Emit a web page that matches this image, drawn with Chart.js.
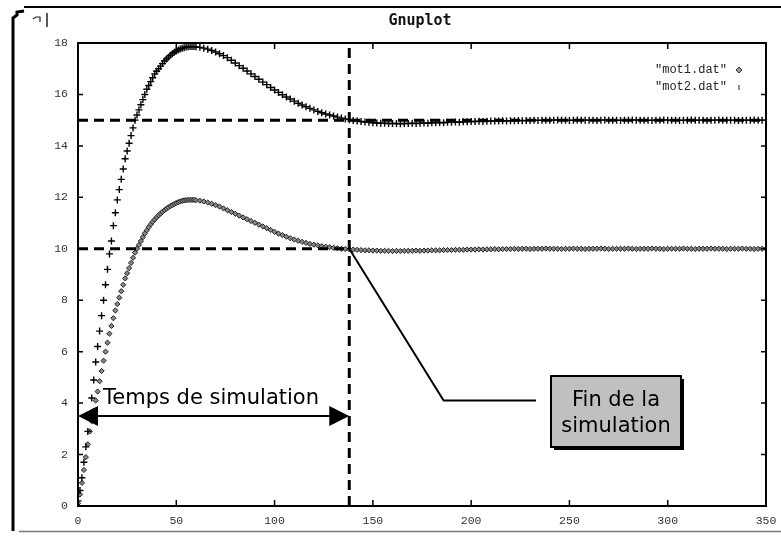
<!DOCTYPE html>
<html>
<head>
<meta charset="utf-8">
<script src="https://cdn.jsdelivr.net/npm/chart.js@4.4.0/dist/chart.umd.min.js"></script>
<style>
html, body { margin: 0; padding: 0; background: #fff; }
#cadre { width: 781px; height: 540px; }
</style>
</head>
<body>
<div id="cadre"><canvas id="graphe"></canvas></div>
<script>
// temps de simulation (abscisses)
const temps = [
  0,1,2,3,4,5,6,7,8,9,
  10,11,12,13,14,15,16,17,18,19,
  20,21,22,23,24,25,26,27,28,29,
  30,31,32,33,34,35,36,37,38,39,
  40,41,42,43,44,45,46,47,48,49,
  50,51,52,53,54,55,56,57,58,59,
  60,
  62,64,66,68,70,72,74,76,78,80,
  82,84,86,88,90,92,94,96,98,100,
  102,104,106,108,110,112,114,116,118,120,
  122,124,126,128,130,132,134,136,138,140,
  142,144,146,148,150,152,154,156,158,160,
  162,164,166,168,170,172,174,176,178,180,
  182,184,186,188,190,192,194,196,198,200,
  202,204,206,208,210,212,214,216,218,220,
  222,224,226,228,230,232,234,236,238,240,
  242,244,246,248,250,252,254,256,258,260,
  262,264,266,268,270,272,274,276,278,280,
  282,284,286,288,290,292,294,296,298,300,
  302,304,306,308,310,312,314,316,318,320,
  322,324,326,328,330,332,334,336,338,340,
  342,344,346,348,350
];

// "mot1.dat" (regime 10)
const mot1 = [
  0.1,0.45,0.9,1.4,1.9,2.4,2.9,3.3,3.7,4.1,
  4.45,4.85,5.25,5.65,6.0,6.35,6.7,7.0,7.3,7.6,
  7.85,8.1,8.35,8.6,8.85,9.05,9.25,9.45,9.65,9.85,
  10.0,10.15,10.3,10.45,10.6,10.72,10.84,10.95,11.05,11.14,
  11.22,11.3,11.37,11.44,11.5,11.56,11.61,11.66,11.7,11.74,
  11.78,11.81,11.84,11.86,11.88,11.89,11.9,11.9,11.9,11.9,
  11.89,
  11.87,11.84,11.8,11.75,11.7,11.64,11.57,11.5,11.43,11.36,
  11.29,11.22,11.15,11.08,11.01,10.94,10.87,10.8,10.73,10.66,
  10.59,10.53,10.47,10.41,10.36,10.31,10.27,10.23,10.19,10.16,
  10.13,10.1,10.08,10.06,10.04,10.02,10.0,9.99,9.98,9.97,
  9.96,9.95,9.94,9.94,9.93,9.93,9.92,9.92,9.92,9.91,
  9.92,9.91,9.92,9.92,9.92,9.93,9.92,9.93,9.93,9.94,
  9.94,9.94,9.95,9.95,9.95,9.96,9.96,9.96,9.97,9.97,
  9.97,9.98,9.97,9.98,9.98,9.99,9.98,9.99,9.99,9.99,
  10.0,9.99,10.0,10.0,9.99,10.0,10.0,10.0,10.01,10.0,
  10.0,10.0,9.99,10.0,10.0,10.01,10.0,10.0,9.99,10.0,
  10.0,10.0,10.01,10.0,9.99,10.0,10.0,10.0,10.0,10.01,
  10.0,9.99,10.0,10.0,10.0,10.01,10.0,10.0,9.99,10.0,
  10.0,10.0,10.0,10.01,10.0,10.0,9.99,10.0,10.0,10.0,
  10.01,10.0,10.0,10.0,9.99,10.0,10.0,10.0,10.01,10.0,
  10.0,9.99,10.0,10.0,10.0
];

// "mot2.dat" (regime 15)
const mot2 = [
  0.2,0.6,1.1,1.7,2.3,2.9,3.5,4.2,4.9,5.6,
  6.2,6.8,7.4,8.0,8.6,9.2,9.8,10.3,10.9,11.4,
  11.9,12.3,12.7,13.1,13.5,13.8,14.1,14.4,14.7,15.0,
  15.2,15.4,15.6,15.8,16.0,16.2,16.35,16.5,16.65,16.8,
  16.9,17.0,17.1,17.2,17.3,17.38,17.45,17.52,17.58,17.64,
  17.69,17.73,17.77,17.8,17.82,17.84,17.85,17.86,17.86,17.86,
  17.85,
  17.83,17.8,17.76,17.71,17.65,17.58,17.51,17.43,17.33,17.22,
  17.12,17.02,16.91,16.8,16.7,16.59,16.48,16.38,16.27,16.17,
  16.08,15.99,15.9,15.82,15.74,15.66,15.59,15.52,15.46,15.4,
  15.34,15.29,15.24,15.2,15.16,15.12,15.08,15.05,15.02,14.99,
  14.97,14.95,14.93,14.92,14.9,14.89,14.88,14.88,14.87,14.87,
  14.87,14.86,14.87,14.87,14.88,14.87,14.88,14.89,14.88,14.9,
  14.9,14.91,14.9,14.92,14.92,14.93,14.92,14.94,14.94,14.95,
  14.95,14.96,14.95,14.96,14.97,14.97,14.97,14.98,14.97,14.98,
  14.98,14.99,14.98,14.99,14.99,15.0,14.99,15.0,15.0,15.0,
  15.0,15.01,15.0,15.0,14.99,15.0,15.01,15.0,15.0,15.0,
  15.0,14.99,15.0,15.01,15.0,15.0,15.0,14.99,15.0,15.0,
  15.01,15.0,15.0,15.0,15.0,14.99,15.0,15.0,15.01,15.0,
  15.0,15.0,14.99,15.0,15.0,15.01,15.0,15.0,15.0,14.99,
  15.0,15.0,15.01,15.0,15.0,15.0,15.0,14.99,15.0,15.0,
  15.0,15.01,15.0,15.0,15.0
];

const ticksX = [0, 50, 100, 150, 200, 250, 300, 350];
const ticksY = [0, 2, 4, 6, 8, 10, 12, 14, 16, 18];

// reperes
const tFin = 138;
const regimes = [15, 10];
const yFleche = 3.5;
const coude = { x: 186, y: 4.1 };
const finTrait = 233;

const points = serie => temps.map((t, i) => ({ x: t, y: serie[i] }));

function losange(c, x, y, r) {
  c.beginPath();
  c.moveTo(x, y - r); c.lineTo(x + r, y); c.lineTo(x, y + r); c.lineTo(x - r, y);
  c.closePath();
  c.fill(); c.stroke();
}

const decor = {
  id: 'decor',
  beforeDraw(chart) {
    const c = chart.ctx;
    c.save();
    c.fillStyle = '#fff';
    c.fillRect(0, 0, chart.width, chart.height);

    // cadre de la fenetre
    c.strokeStyle = '#000';
    c.lineWidth = 3;
    c.beginPath();
    c.moveTo(13, 531); c.lineTo(13, 18); c.lineTo(17, 15); c.lineTo(17, 12); c.lineTo(24, 11);
    c.stroke();
    c.lineWidth = 2;
    c.beginPath();
    c.moveTo(24, 7); c.lineTo(781, 7);
    c.stroke();
    c.strokeStyle = '#777';
    c.lineWidth = 1.5;
    c.beginPath();
    c.moveTo(19, 531.5); c.lineTo(781, 531.5);
    c.stroke();

    // icone
    c.strokeStyle = '#222';
    c.lineWidth = 1.2;
    c.beginPath();
    c.moveTo(33, 19); c.lineTo(36, 17); c.lineTo(40, 17); c.lineTo(40, 22);
    c.stroke();
    c.lineWidth = 1.5;
    c.beginPath();
    c.moveTo(47, 13); c.lineTo(47, 27);
    c.stroke();

    // titre
    c.fillStyle = '#111';
    c.font = 'bold 15px "DejaVu Sans Mono"';
    c.textAlign = 'center';
    c.textBaseline = 'middle';
    c.fillText('Gnuplot', 420, 21);
    c.restore();
  },
  afterDraw(chart) {
    const c = chart.ctx;
    const a = chart.chartArea;
    const xs = chart.scales.x, ys = chart.scales.y;
    c.save();

    // bordure du trace et graduations interieures
    c.strokeStyle = '#000';
    c.lineWidth = 2;
    c.strokeRect(a.left, a.top, a.right - a.left, a.bottom - a.top);
    c.lineWidth = 1.5;
    c.beginPath();
    ticksX.forEach(v => {
      const p = xs.getPixelForValue(v);
      c.moveTo(p, a.bottom); c.lineTo(p, a.bottom - 6);
      c.moveTo(p, a.top); c.lineTo(p, a.top + 6);
    });
    ticksY.forEach(v => {
      const p = ys.getPixelForValue(v);
      c.moveTo(a.left, p); c.lineTo(a.left + 5, p);
      c.moveTo(a.right, p); c.lineTo(a.right - 5, p);
    });
    c.stroke();

    // legende
    c.font = '12px "Liberation Mono"';
    c.textAlign = 'right';
    c.textBaseline = 'middle';
    c.fillStyle = '#222';
    const ds = chart.data.datasets;
    c.fillText(ds[0].label, 727, 70);
    c.fillText(ds[1].label, 727, 87);
    c.strokeStyle = '#333';
    c.fillStyle = '#999';
    c.lineWidth = 1;
    losange(c, 739, 70, 3);
    c.strokeStyle = '#222';
    c.beginPath(); c.moveTo(739, 85); c.lineTo(739, 90); c.stroke();

    // fleche "Temps de simulation"
    const yf = ys.getPixelForValue(yFleche);
    const x0 = xs.getPixelForValue(0), x1 = xs.getPixelForValue(tFin);
    c.strokeStyle = '#000';
    c.fillStyle = '#000';
    c.lineWidth = 2;
    c.beginPath(); c.moveTo(x0 + 15, yf); c.lineTo(x1 - 15, yf); c.stroke();
    c.beginPath();
    c.moveTo(x0, yf); c.lineTo(x0 + 20, yf - 10); c.lineTo(x0 + 20, yf + 10); c.closePath();
    c.moveTo(x1, yf); c.lineTo(x1 - 20, yf - 10); c.lineTo(x1 - 20, yf + 10); c.closePath();
    c.fill();
    c.font = '21px "DejaVu Sans"';
    c.textAlign = 'left';
    c.textBaseline = 'alphabetic';
    c.fillText('Temps de simulation', x0 + 25, yf - 12);

    // renvoi "Fin de la simulation"
    c.lineWidth = 2;
    c.beginPath();
    c.moveTo(xs.getPixelForValue(tFin), ys.getPixelForValue(regimes[1]));
    c.lineTo(xs.getPixelForValue(coude.x), ys.getPixelForValue(coude.y));
    c.lineTo(xs.getPixelForValue(finTrait), ys.getPixelForValue(coude.y));
    c.stroke();

    const bx = 551, by = 376, bw = 130, bh = 71;
    c.fillStyle = '#000';
    c.fillRect(bx + 3, by + 3, bw, bh);
    c.fillStyle = '#c0c0c0';
    c.fillRect(bx, by, bw, bh);
    c.strokeStyle = '#000';
    c.lineWidth = 2;
    c.strokeRect(bx, by, bw, bh);
    c.fillStyle = '#000';
    c.textAlign = 'center';
    c.fillText('Fin de la', bx + bw / 2, by + 30);
    c.fillText('simulation', bx + bw / 2, by + 56);
    c.restore();
  }
};

const tirets = { borderColor: '#000', borderWidth: 3, borderDash: [10, 6], pointRadius: 0, showLine: true, fill: false, order: 0 };

new Chart(document.querySelector('#graphe'), {
  type: 'scatter',
  data: {
    datasets: [
      {
        label: '"mot1.dat"',
        data: points(mot1),
        pointStyle: 'rectRot',
        pointRadius: 2.6,
        borderWidth: 1,
        borderColor: '#222',
        backgroundColor: '#888',
        order: 2
      },
      {
        label: '"mot2.dat"',
        data: points(mot2),
        pointStyle: 'cross',
        pointRadius: 3.5,
        borderWidth: 1.4,
        borderColor: '#000',
        backgroundColor: '#000',
        order: 1
      },
      Object.assign({ label: 'r15', data: [{ x: 0, y: regimes[0] }, { x: ticksX[ticksX.length - 1], y: regimes[0] }] }, tirets),
      Object.assign({ label: 'r10', data: [{ x: 0, y: regimes[1] }, { x: tFin, y: regimes[1] }] }, tirets),
      Object.assign({ label: 'fin', data: [{ x: tFin, y: 0 }, { x: tFin, y: ticksY[ticksY.length - 1] }] }, tirets)
    ]
  },
  options: {
    responsive: true,
    maintainAspectRatio: false,
    devicePixelRatio: 1,
    animation: false,
    layout: { padding: { top: 43, right: 15, left: 0, bottom: 0 } },
    plugins: {
      legend: { display: false },
      title: { display: false },
      tooltip: { enabled: false }
    },
    scales: {
      x: {
        type: 'linear',
        min: 0,
        max: 350,
        afterBuildTicks: s => { s.ticks = ticksX.map(v => ({ value: v })); },
        afterFit: s => { s.height = 34; s.paddingLeft = 0; s.paddingRight = 0; },
        grid: { display: false, drawTicks: false },
        border: { display: false },
        ticks: { padding: 8, color: '#333', font: { family: 'Liberation Mono', size: 11.5 }, maxRotation: 0 }
      },
      y: {
        type: 'linear',
        min: 0,
        max: 18,
        afterBuildTicks: s => { s.ticks = ticksY.map(v => ({ value: v })); },
        afterFit: s => { s.width = 78; s.paddingTop = 0; s.paddingBottom = 0; },
        grid: { display: false, drawTicks: false },
        border: { display: false },
        ticks: { padding: 10, color: '#333', font: { family: 'Liberation Mono', size: 11.5 } }
      }
    }
  },
  plugins: [decor]
});
</script>
</body>
</html>
